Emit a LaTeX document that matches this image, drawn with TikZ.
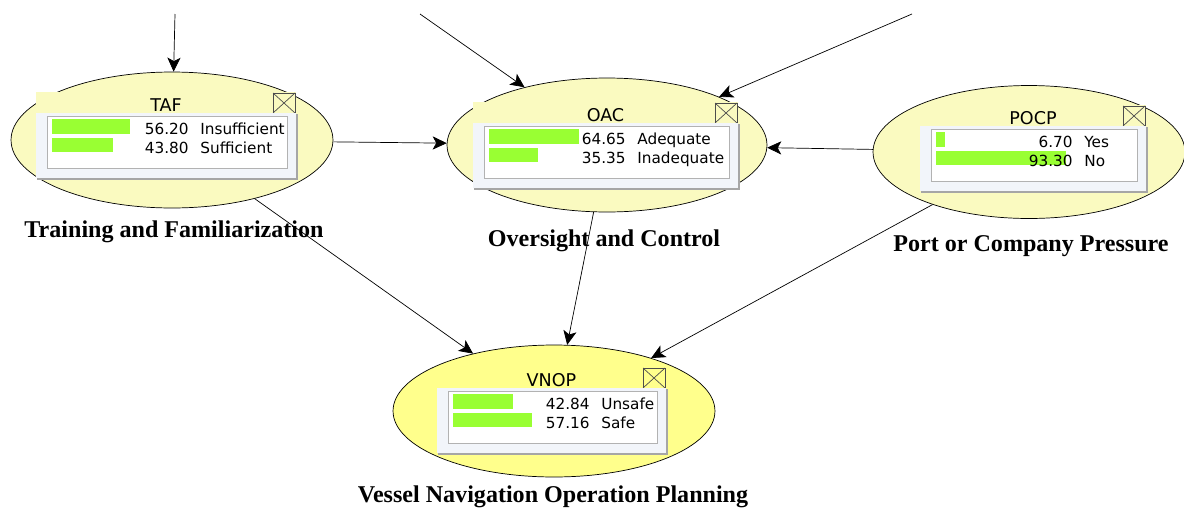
\documentclass[tikz,border=0pt]{standalone}
\usepackage{fontspec}
\setmainfont{Liberation Serif}
\newfontfamily\monfont{DejaVu Sans}
\usetikzlibrary{shapes.geometric,arrows.meta}
\definecolor{nodeyellow}{RGB}{250,250,192}
\definecolor{hotyellow}{RGB}{255,255,140}
\definecolor{bargreen}{RGB}{153,255,51}
\definecolor{panelbg}{RGB}{242,245,250}
\tikzset{
  bnode/.style={draw,ellipse,thin,inner sep=0pt},
  link/.style={-{Stealth[length=8pt,width=7.5pt,inset=2pt]},thin},
  caption/.style={font=\bfseries\fontsize{13.7}{15}\selectfont},
  montext/.style={font=\monfont\fontsize{8.7}{10}\selectfont,inner sep=0pt},
  montitle/.style={font=\monfont\fontsize{10}{12}\selectfont,inner sep=0pt},
}
% monitor window: x, y, width, fill, title, p1, state1, p2, state2
\newcommand{\monitor}[9]{%
  \begin{scope}[shift={(#1,#2)}]
    \fill[#4] (0,0) rectangle (#3,21);
    \node[montitle,anchor=base] at (#3/2,19) {#5};
    \draw[gray!60!black,fill=#4] (#3-23,1) rectangle (#3-1,21);
    \draw[gray!60!black] (#3-23,1) -- (#3-1,21) (#3-23,21) -- (#3-1,1);
    \fill[panelbg] (0,21) rectangle (#3,86);
    \draw[gray!70,line width=1pt] (1,87) -- (#3+1,87) -- (#3+1,22);
    \draw[gray!60,fill=white] (11,24) rectangle (#3-9,76);
    \fill[bargreen] (16,27) rectangle ({16+1.39*#6},42);
    \fill[bargreen] (16,46) rectangle ({16+1.39*#8},60);
    \node[montext,anchor=base east] at (153,42) {#6};
    \node[montext,anchor=base west] at (164,42) {#7};
    \node[montext,anchor=base east] at (153,61) {#8};
    \node[montext,anchor=base west] at (164,61) {#9};
  \end{scope}}
\begin{document}
\begin{tikzpicture}[x=0.02cm,y=-0.02cm]
  \useasboundingbox (0,0) rectangle (1184,511);
  % nodes
  \node[bnode,fill=nodeyellow,minimum width=6.44cm,minimum height=2.72cm] (taf)  at (172,140)  {};
  \node[bnode,fill=nodeyellow,minimum width=6.4cm, minimum height=2.68cm] (oac)  at (607,145)  {};
  \node[bnode,fill=nodeyellow,minimum width=6.24cm,minimum height=2.66cm] (pocp) at (1029,152) {};
  \node[bnode,fill=hotyellow, minimum width=6.44cm,minimum height=2.64cm] (vnop) at (554,411)  {};
  %
  \monitor{36}{92}{260}{nodeyellow}{TAF}{56.20}{Insufficient}{43.80}{Sufficient}
  \monitor{473}{102}{265}{nodeyellow}{OAC}{64.65}{Adequate}{35.35}{Inadequate}
  \monitor{920}{105}{226}{nodeyellow}{POCP}{6.70}{Yes}{93.30}{No}
  \monitor{437}{367}{229}{hotyellow}{VNOP}{42.84}{Unsafe}{57.16}{Safe}
  %
  \node[caption] (tafcap)  at (174,232)  {Training and Familiarization};
  \node[caption] (oaccap)  at (604,241)  {Oversight and Control};
  \node[caption] (pocpcap) at (1031,246) {Port or Company Pressure};
  \node[caption] (vnopcap) at (553,497)  {Vessel Navigation Operation Planning};
  %
  \coordinate (tafin)  at (175,14);
  \coordinate (oacin1) at (420,14);
  \coordinate (oacin2) at (912,14);
  \draw[link] (tafin)  -- (taf);
  \draw[link] (oacin1) -- (oac);
  \draw[link] (oacin2) -- (oac);
  \draw[link] (taf)  -- (oac);
  \draw[link] (pocp) -- (oac);
  \draw[link] (taf)  -- (vnop);
  \draw[link] (oac)  -- (vnop);
  \draw[link] (pocp) -- (vnop);
\end{tikzpicture}
\end{document}
